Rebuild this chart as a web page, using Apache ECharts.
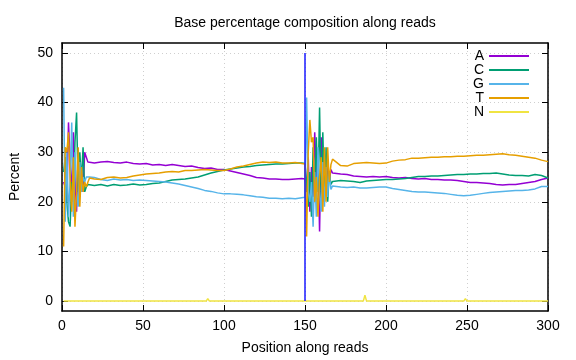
<!DOCTYPE html>
<html>
<head>
<meta charset="utf-8">
<script src="https://cdn.jsdelivr.net/npm/echarts@6/dist/echarts.min.js"></script>
<style>html,body{margin:0;padding:0;background:#fff;}#c{width:576px;height:360px;}</style>
</head>
<body>
<div id="c"></div>
<script>
// Positions along reads at which values were read
const positions = [
  1,2,3,4,5,6,7,8,9,10,11,12,13,14,15,16,17,
  20,24,28,32,36,40,44,48,52,56,60,64,68,72,76,80,84,88,92,96,100,104,108,112,116,120,124,128,132,136,140,144,148,
  150,
  151,152,153,154,155,156,157,158,159,160,161,162,163,164,165,166,167,168,
  172,176,180,184,188,192,196,200,204,208,212,216,220,224,228,232,236,240,244,248,252,256,260,264,268,272,276,280,284,288,292,296,300
];
const valuesA = [
  24,23,20,36,36,21,34,25,18,30,23,27,22,30,29,28,27.7,
  27.8,28.0,28.1,27.9,27.8,28.0,27.7,27.6,27.7,27.4,27.5,27.3,27.5,27.3,27.1,27.2,26.9,26.7,26.8,26.5,26.5,26.2,25.9,25.6,25.3,24.9,24.8,24.6,24.6,24.5,24.5,24.6,24.7,
  24.6,
  22,29,18,27,21,34,25,30,14,33,20,29,22,28,24,26.5,25.8,25.6,
  25.6,25.5,25.2,25.1,25.0,25.1,25.0,25.1,24.9,24.8,24.9,24.7,24.6,24.7,24.5,24.5,24.4,24.4,24.3,24.1,23.9,23.9,23.8,23.7,23.5,23.4,23.5,23.5,23.7,23.9,24.1,24.5,24.8
];
const valuesC = [
  26,29,20,16,15,24,20,32,38,22,30,24,31,22,23,23.5,23.5,
  23.3,23.5,23.2,23.5,23.3,23.4,23.6,23.4,23.5,23.7,23.8,24.1,24.4,24.5,24.6,24.8,25.0,25.4,25.8,26.1,26.4,26.6,26.8,27.0,27.1,27.3,27.4,27.5,27.6,27.6,27.7,27.8,27.8,
  27.7,
  24,19,26,17,31,20,33,22,39,20,34,21,31,20,26,23.5,24.1,24.3,
  24.3,24.2,24.1,23.9,24.2,24.3,24.4,24.5,24.5,24.6,24.7,24.9,25.1,25.1,25.2,25.2,25.3,25.4,25.5,25.5,25.6,25.6,25.7,25.7,25.8,25.6,25.4,25.3,25.3,25.2,25.5,25.3,24.8
];
const valuesG = [
  43,16,30,17,24,36,17,30,22,19,28,22,25,24,25,25,25,
  24.9,24.5,24.3,24.6,24.4,24.5,24.3,24.4,24.3,24.2,24.1,24.0,23.8,23.6,23.3,23.0,22.7,22.3,22.1,21.8,21.6,21.6,21.5,21.4,21.2,21.0,20.9,20.7,20.7,20.6,20.7,20.6,20.8,
  20.9,
  41,22,20,24,15,26,17,31,22,18,28,19,27,21,26,22.5,23.2,23.0,
  23.0,22.9,23.0,22.8,22.8,22.9,23.0,23.0,22.7,22.5,22.3,22.1,22.0,22.0,21.9,21.8,21.7,21.5,21.3,21.2,21.3,21.5,21.7,21.9,22.0,22.1,22.2,22.3,22.3,22.4,22.6,23.1,23.1
];
const valuesT = [
  11,31,30,34,25,18,29,15,22,31,19,27,22,24,23,24,24.8,
  24.6,24.5,24.9,25.0,24.8,24.9,25.2,25.4,25.6,25.7,25.8,26.0,26.1,26.0,26.3,26.3,26.4,26.5,26.4,26.3,26.3,26.6,27.0,27.2,27.5,27.8,28.0,27.9,28.0,27.8,27.8,27.9,27.7,
  27.6,
  13,30,36.5,32,33,20,25,17,25,29,18,31,20,31,24,27.5,28.6,28.2,
  27.3,27.2,27.7,27.8,27.9,27.8,27.7,27.8,28.2,28.4,28.5,28.8,28.8,28.9,29.0,29.0,29.1,29.1,29.2,29.2,29.3,29.4,29.4,29.5,29.6,29.7,29.5,29.4,29.2,29.0,28.8,28.4,28.1
];
const positionsN = [1,89,90,91,150,162,163,164,186,187,188,248,249,250,269,270,271,300];
const valuesN    = [0, 0,0.5,0,  0,  0,0.4,  0,  0,1.2,  0,  0,0.5,  0,  0,0.4,  0,  0];
// Read-pair boundary marker
const boundaryPos = [150, 150];
const boundaryVal = [0, 50];

const seriesNames = ['A','C','G','T','N'];
const seriesColors = ['#9400d3','#009e73','#56b4e9','#e69f00','#f0e442'];
const yTicks = [0,10,20,30,40,50];

function zip(xs, ys){ return xs.map((x,i)=>[x, ys[i]]); }
const lists = [valuesA, valuesC, valuesG, valuesT];
lists.forEach((l,i)=>{ if(l.length!==positions.length) console.error('length mismatch', seriesNames[i], l.length, positions.length); });

const font = 'Liberation Sans, Arial, sans-serif';
const chart = echarts.init(document.getElementById('c'), null, {renderer:'canvas'});
const dataSeries = lists.map((l,i)=>({
  name: seriesNames[i], type:'line', data: zip(positions, l), showSymbol:false, symbol:'none',
  lineStyle:{width:1.5, color:seriesColors[i]}, itemStyle:{color:seriesColors[i]}, z: 2+i
}));
dataSeries.push({
  name:'N', type:'line', data: zip(positionsN, valuesN), showSymbol:false, symbol:'none',
  lineStyle:{width:1.5, color:seriesColors[4]}, itemStyle:{color:seriesColors[4]}, z: 6
});
dataSeries.push({
  name:'boundary', type:'line', data: zip(boundaryPos, boundaryVal), showSymbol:false, symbol:'none',
  lineStyle:{width:1.5, color:'#1a1aff'}, z: 7
});

const axisLine = {show:true, onZero:false, lineStyle:{color:'#000', width:1.5}};
const axisTick = {show:true, inside:true, length:6, lineStyle:{color:'#000', width:1}};
const gridLine = {show:true, lineStyle:{color:'#cfcfcf', type:[1,3], width:1}};
chart.setOption({
  animation:false,
  backgroundColor:'#fff',
  title:{text:'Base percentage composition along reads', left:300, top:11, textAlign:'center',
    textStyle:{fontFamily:font, fontSize:14, fontWeight:'normal', color:'#000'}},
  legend:{data:seriesNames, orient:'vertical', right:42, top:44, align:'right', icon:'rect', itemWidth:40, itemHeight:2, itemGap:0,
    textStyle:{fontFamily:font, fontSize:14, color:'#000', lineHeight:14}, selectedMode:false},
  grid:{left:62, right:28, top:43, bottom:46, containLabel:false},
  xAxis:[
    {type:'value', min:0, max:300, interval:50, position:'bottom',
      name:'Position along reads', nameLocation:'middle', nameGap:30,
      nameTextStyle:{fontFamily:font, fontSize:14, color:'#000'},
      axisLine:axisLine, axisTick:axisTick,
      axisLabel:{fontFamily:font, fontSize:14, color:'#000', margin:8},
      splitLine:gridLine},
    {type:'value', min:0, max:300, interval:50, position:'top',
      axisLine:axisLine, axisTick:axisTick, axisLabel:{show:false}, splitLine:{show:false}}
  ],
  yAxis:[
    {type:'value', min:-2, max:52, position:'left',
      name:'Percent', nameLocation:'middle', nameGap:40, nameRotate:90,
      nameTextStyle:{fontFamily:font, fontSize:14, color:'#000'},
      axisLine:axisLine,
      axisLabel:{fontFamily:font, fontSize:14, color:'#000', margin:9, customValues:yTicks},
      axisTick:Object.assign({customValues:yTicks}, axisTick),
      splitLine:gridLine},
    {type:'value', min:-2, max:52, position:'right',
      axisLine:axisLine,
      axisLabel:{show:false, customValues:yTicks},
      axisTick:Object.assign({customValues:yTicks}, axisTick),
      splitLine:{show:false}}
  ],
  series: dataSeries.map(s=>Object.assign(s,{xAxisIndex:0, yAxisIndex:0}))
});
</script>
</body>
</html>
